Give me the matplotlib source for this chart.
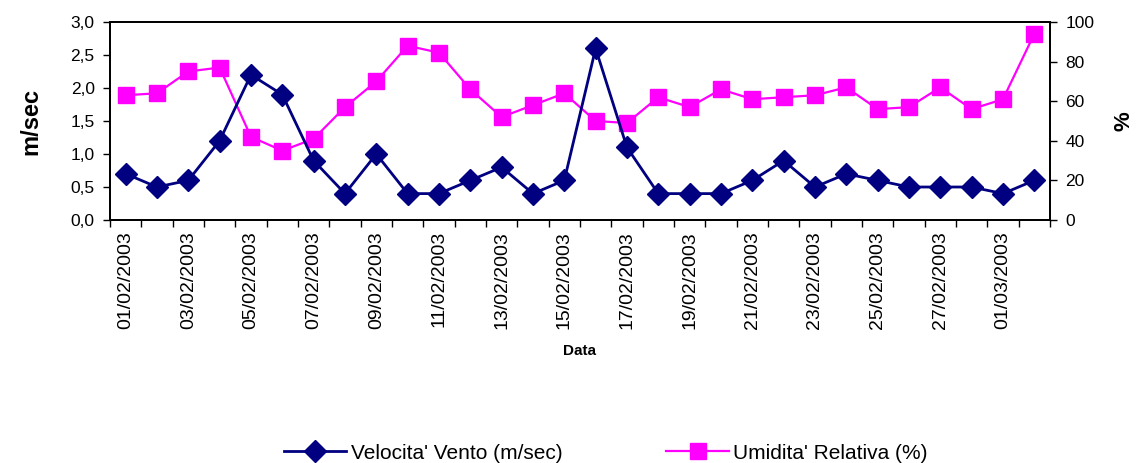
import matplotlib.pyplot as plt
from matplotlib.ticker import FixedLocator, NullFormatter

plt.rcParams['font.family'] = ['Liberation Sans', 'DejaVu Sans']

date_labels = [
    '01/02/2003', '02/02/2003', '03/02/2003', '04/02/2003', '05/02/2003',
    '06/02/2003', '07/02/2003', '08/02/2003', '09/02/2003', '10/02/2003',
    '11/02/2003', '12/02/2003', '13/02/2003', '14/02/2003', '15/02/2003',
    '16/02/2003', '17/02/2003', '18/02/2003', '19/02/2003', '20/02/2003',
    '21/02/2003', '22/02/2003', '23/02/2003', '24/02/2003', '25/02/2003',
    '26/02/2003', '27/02/2003', '28/02/2003', '01/03/2003', '02/03/2003',
]

vento = [0.7, 0.5, 0.6, 1.2, 2.2, 1.9, 0.9, 0.4, 1.0, 0.4,
         0.4, 0.6, 0.8, 0.4, 0.6, 2.6, 1.1, 0.4, 0.4, 0.4,
         0.6, 0.9, 0.5, 0.7, 0.6, 0.5, 0.5, 0.5, 0.4, 0.6]

umidita = [63, 64, 75, 77, 42, 35, 41, 57, 70, 88,
           84.5, 66, 52, 58, 64, 50, 49, 62, 57, 66,
           61, 62, 63, 67, 56, 57, 67, 56, 61, 94]

left_ticks = [0.0, 0.5, 1.0, 1.5, 2.0, 2.5, 3.0]
left_labels = ['0,0', '0,5', '1,0', '1,5', '2,0', '2,5', '3,0']
right_ticks = [0, 20, 40, 60, 80, 100]

fig = plt.figure(figsize=(11.43, 4.63), dpi=100)
ax = fig.add_axes([0.0962, 0.5248, 0.8224, 0.4277])
ax2 = ax.twinx()

x = list(range(len(date_labels)))
l1, = ax.plot(x, vento, color='#000080', lw=2, marker='D', markersize=11,
              label="Velocita' Vento (m/sec)", zorder=3)
l2, = ax2.plot(x, umidita, color='#FF00FF', lw=1.6, marker='s', markersize=11.5,
               label="Umidita' Relativa (%)")
ax.set_zorder(ax2.get_zorder() + 1)
ax.patch.set_visible(False)

ax.set_xlim(-0.5, len(x) - 0.5)
ax.set_ylim(0, 3)
ax2.set_ylim(0, 100)

# category boundaries as ticks, labels every other day at the centres
ax.xaxis.set_major_locator(FixedLocator([i - 0.5 for i in range(len(x) + 1)]))
ax.xaxis.set_major_formatter(NullFormatter())
ax.xaxis.set_minor_locator(FixedLocator(x[::2]))
ax.set_xticklabels(date_labels[::2], minor=True, rotation=90, fontsize=14)
ax.tick_params(axis='x', which='major', length=5, width=1, direction='out')
ax.tick_params(axis='x', which='minor', length=0, pad=8)

ax.set_yticks(left_ticks)
ax.set_yticklabels(left_labels, fontsize=12.5)
ax.tick_params(axis='y', length=5, width=1, pad=6)
ax2.set_yticks(right_ticks)
ax2.tick_params(axis='y', length=5, width=1, labelsize=12.5, pad=6)

for a in (ax, ax2):
    for sp in a.spines.values():
        sp.set_linewidth(1.3)

ax.set_ylabel('m/sec', fontsize=17, fontweight='bold', labelpad=20)
ax2.set_ylabel('%', fontsize=16, fontweight='bold', labelpad=14)
ax.set_xlabel('Data', fontsize=11, fontweight='bold', labelpad=11)

fig.legend(handles=[l1, l2], loc='lower center', bbox_to_anchor=(0.53, -0.04),
           ncol=2, frameon=False, fontsize=15, handlelength=3.0,
           columnspacing=5, handletextpad=0.2)

fig.savefig('out.png', dpi=100)
